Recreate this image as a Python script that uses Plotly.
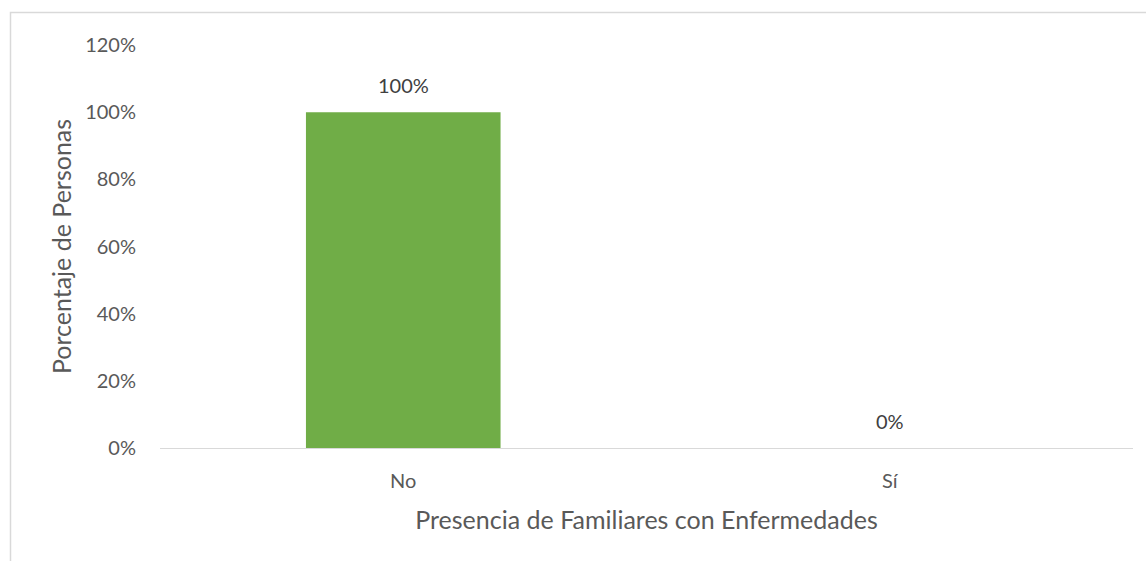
import plotly.graph_objects as go

categories = ["No", "Sí"]
values = [1.0, 0.0]
labels = ["100%", "0%"]
y_ticks = [0, 0.2, 0.4, 0.6, 0.8, 1.0, 1.2]
y_ticklabels = ["0%", "20%", "40%", "60%", "80%", "100%", "120%"]

fig = go.Figure()
fig.add_trace(go.Bar(
    x=categories, y=values,
    marker=dict(color="#70ad47", line=dict(width=0)),
))

annotations = [
    dict(x=c, y=v, xref="x", yref="y", text=t, showarrow=False,
         yanchor="bottom", yshift=13,
         font=dict(color="#404040", size=20))
    for c, v, t in zip(categories, values, labels)
]

fig.update_layout(
    width=1146, height=561,
    margin=dict(l=160, r=13, t=45, b=113),
    paper_bgcolor="white", plot_bgcolor="white",
    font=dict(family="Lato, Open Sans, sans-serif", color="#595959", size=20),
    bargap=0.6, showlegend=False,
    annotations=annotations,
    xaxis=dict(
        showline=True, linecolor="#d9d9d9", linewidth=1,
        showgrid=False, ticks="", ticklabelstandoff=15,
        title=dict(text="Presencia de Familiares con Enfermedades", font=dict(size=25), standoff=20),
    ),
    yaxis=dict(
        range=[0, 1.2], tickvals=y_ticks, ticktext=y_ticklabels,
        showgrid=False, zeroline=False, showline=False, ticks="",
        ticklabelstandoff=23,
        title=dict(text="Porcentaje de Personas", font=dict(size=25), standoff=6),
    ),
    shapes=[dict(type="rect", xref="paper", yref="paper",
                 x0=-149.5/973, x1=1.2, y0=-0.5, y1=1 + 32.5/403,
                 line=dict(color="#d9d9d9", width=1.5), layer="below")],
)

fig.write_html("out.html", config={"displayModeBar": False},
               post_script="document.body.style.margin='0';document.body.style.overflow='hidden';")
